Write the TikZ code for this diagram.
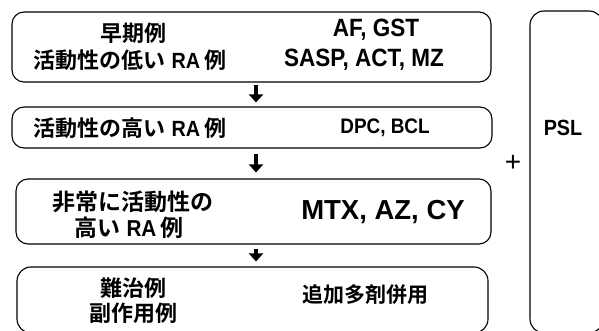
\documentclass[tikz,border=0pt]{standalone}
\usepackage{fontspec}
\usetikzlibrary{arrows.meta,calc}
\newfontfamily\jp{Noto Sans CJK JP}[UprightFont=* Bold]
\newfontfamily\lat{Liberation Sans}[UprightFont=* Bold, FakeStretch=0.9]
\newfontfamily\latw{Liberation Sans}[UprightFont=* Bold]
\newfontfamily\latr{Liberation Sans}
\begin{document}
\begin{tikzpicture}[x=1pt,y=-1pt,
  box/.style={draw, line width=1.1pt, rounded corners=12pt, inner sep=0pt},
  jt/.style={font=\jp\fontsize{22}{26}\selectfont, inner sep=0pt},
  lt/.style={font=\lat\fontsize{25}{29}\selectfont, inner sep=0pt},
  flow/.style={line width=4.7pt, -{Triangle[width=14pt,length=8pt]}}]
\useasboundingbox (0,0) rectangle (599,331);
\clip (0,0) rectangle (599,331);
% boxes
\node[box, minimum width=479pt, minimum height=70pt] (b1) at (251.5,47) {};
\node[box, minimum width=480pt, minimum height=41pt] (b2) at (252,127.5) {};
\node[box, minimum width=475pt, minimum height=65pt] (b3) at (253.5,211.5) {};
\node[box, rounded corners=14pt, minimum width=471pt, minimum height=66pt] (b4) at (252.5,300) {};
\node[box, rounded corners=14pt, minimum width=73pt, minimum height=322pt] (psl) at (566.5,172) {};
% texts
\node[jt] (t1a) at (133,33) {早期例};
\node[jt] (t1b) at (130,60) {活動性の低い\hspace{6pt}{\lat RA}\hspace{4pt}例};
\node[lt] (d1a) at (376,30) {AF, GST};
\node[lt] (d1b) at (364,60) {SASP, ACT, MZ};
\node[jt] (t2) at (130,128) {活動性の高い\hspace{6pt}{\lat RA}\hspace{4pt}例};
\node[lt, font=\lat\fontsize{21}{25}\selectfont] (d2) at (385,128) {DPC, BCL};
\node[jt, font=\jp\fontsize{23}{27}\selectfont] (t3a) at (133,202) {非常に活動性の};
\node[jt, font=\jp\fontsize{23}{27}\selectfont] (t3b) at (129,228) {高い\hspace{6pt}{\lat RA}\hspace{4pt}例};
\node[lt, font=\latw\fontsize{27.5}{31}\selectfont] (d3) at (383,212) {MTX, AZ, CY};
\node[jt] (t4a) at (133,288) {難治例};
\node[jt] (t4b) at (133,313) {副作用例};
\node[jt, font=\jp\fontsize{21}{25}\selectfont] (d4) at (365,295) {追加多剤併用};
\node[lt, font=\lat\fontsize{22}{26}\selectfont] (p) at (563,128) {PSL};
\node[inner sep=0pt, font=\latr\fontsize{28}{30}\selectfont] (plus) at (513,163) {+};
% arrows
\draw[flow] ($(b1.south)+(4.5,2)$) -- ($(b2.north)+(4,-4)$);
\draw[flow] ($(b2.south)+(4,5)$) -- ($(b3.north)+(2.5,-6)$);
\draw[flow] ($(b3.south)+(2.5,4)$) -- ($(b4.north)+(3.5,-5)$);
\end{tikzpicture}
\end{document}
